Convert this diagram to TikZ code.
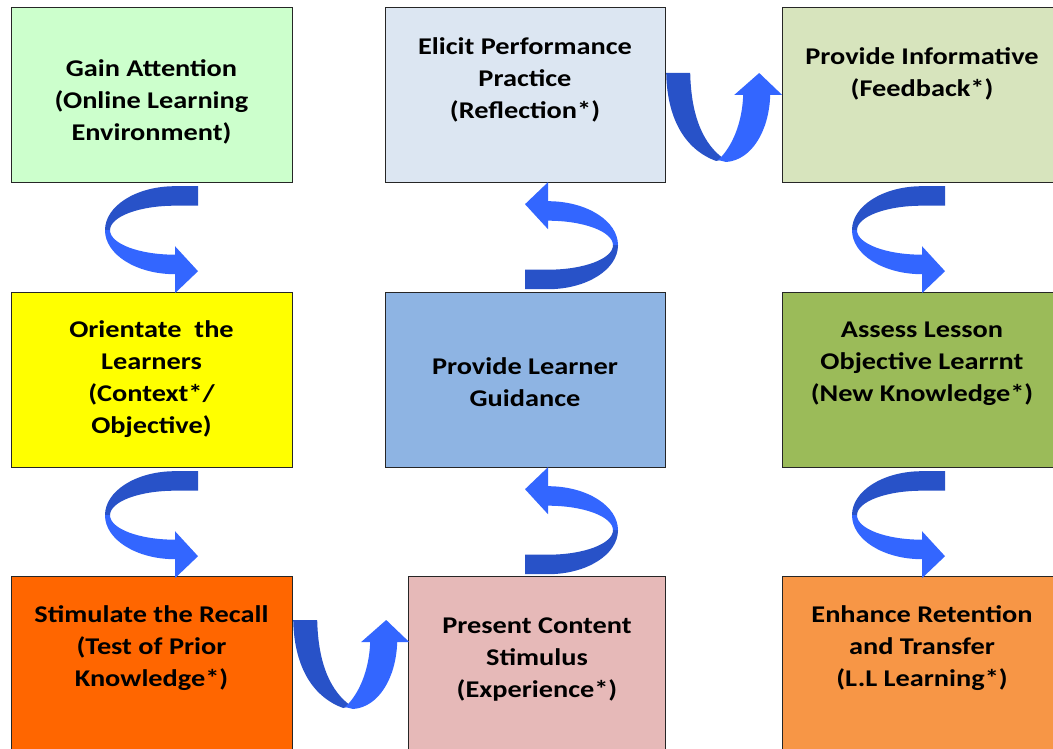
\documentclass[tikz,border=0pt]{standalone}
\usepackage{fontspec}
\setmainfont{Carlito}[FakeStretch=1.18]
\usetikzlibrary{calc}
\definecolor{cA}{RGB}{204,255,204}
\definecolor{cB}{RGB}{220,230,242}
\definecolor{cC}{RGB}{215,228,189}
\definecolor{cD}{RGB}{255,255,0}
\definecolor{cE}{RGB}{142,180,227}
\definecolor{cF}{RGB}{155,187,89}
\definecolor{cG}{RGB}{255,102,0}
\definecolor{cH}{RGB}{230,185,184}
\definecolor{cI}{RGB}{247,150,70}
\definecolor{adark}{RGB}{40,82,200}
\definecolor{alight}{RGB}{51,102,255}
\tikzset{
  box/.style={draw=black!85, line width=1.2pt, anchor=north west, inner sep=0pt, minimum width=#1, minimum height=175pt},
  txt/.style={font=\fontsize{24}{32}\selectfont\bfseries, align=center, inner sep=0pt, text=black},
  pics/carrow/.style={code={
    \fill[adark] (0,-85) -- (-23,-85) arc[start angle=-90, end angle=-180, x radius=70, y radius=44]
      -- (-88,-41) arc[start angle=180, end angle=270, x radius=65, y radius=24.5] -- (0,-65.5) -- cycle;
    \fill[alight] (-93,-41) arc[start angle=180, end angle=90, x radius=70, y radius=44]
      -- (-23,22) -- (0,0) -- (-23,-25) -- (-23,-16.5)
      arc[start angle=90, end angle=180, x radius=65, y radius=24.5] -- cycle;
  }},
  pics/uarrow/.style={code={
    \fill[adark] (0,0) -- (24,0) .. controls (25,45) and (38,72) .. (58,86) -- (50,88) .. controls (22,78) and (1,50) .. (0,0) -- cycle;
    \fill[alight] (52,87) .. controls (66,74) and (76,50) .. (77,22) -- (68,22) -- (93,0) -- (116,22) -- (104,22) .. controls (103,57) and (86,87) .. (60,89) -- cycle;
  }}
}
\begin{document}
\begin{tikzpicture}[x=1pt,y=-1pt]
\useasboundingbox (0,0) rectangle (1053,749);
\clip (0,0) rectangle (1053,749);
\fill[white] (0,0) rectangle (1053,749);
% boxes
\node[box=281pt, fill=cA] (A) at (11,7) {};
\node[box=280pt, fill=cB] (B) at (385,7) {};
\node[box=280pt, fill=cC] (C) at (782,7) {};
\node[box=281pt, fill=cD] (D) at (11,292) {};
\node[box=280pt, fill=cE] (E) at (385,292) {};
\node[box=280pt, fill=cF] (F) at (782,292) {};
\node[box=281pt, fill=cG, minimum height=200pt] (G) at (11,576) {};
\node[box=257pt, fill=cH, minimum height=200pt] (H) at (408,576) {};
\node[box=280pt, fill=cI, minimum height=200pt] (I) at (782,576) {};
% texts
\node[txt] (At) at (151.5,102) {Gain Attention\\(Online Learning\\Environment)};
\node[txt] (Bt) at (525,80) {Elicit Performance\\Practice\\(Reflection*)};
\node[txt] (Ct) at (922,74) {Provide Informative\\(Feedback*)};
\node[txt] (Dt) at (151.5,379) {Orientate\ \ the\\Learners\\(Context*/\\Objective)};
\node[txt] (Et) at (525,382) {Provide Learner\\Guidance};
\node[txt] (Ft) at (922,364) {Assess Lesson\\Objective Learrnt\\(New Knowledge*)};
\node[txt] (Gt) at (151.5,648) {Stimulate the Recall\\(Test of Prior\\Knowledge*)};
\node[txt] (Ht) at (537,660) {Present Content\\Stimulus\\(Experience*)};
\node[txt] (It) at (922,648) {Enhance Retention\\and Transfer\\(L.L Learning*)};
% arrows
\pic at ($(A.south west)+(187,88)$) {carrow};
\pic at ($(D.south west)+(187,88)$) {carrow};
\pic at ($(C.south west)+(163,88)$) {carrow};
\pic at ($(F.south west)+(163,88)$) {carrow};
\pic[rotate=180] at ($(E.south west)+(140,21)$) {carrow};
\pic[rotate=180] at ($(B.south west)+(140,21)$) {carrow};
\pic at ($(G.north east)+(0,44)$) {uarrow};
\pic at ($(B.north east)+(0,66)$) {uarrow};
\end{tikzpicture}
\end{document}
